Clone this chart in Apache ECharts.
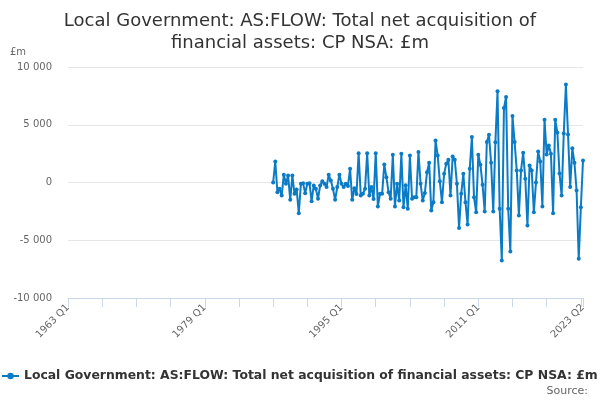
<!DOCTYPE html>
<html>
<head>
<meta charset="utf-8">
<script src="https://cdn.jsdelivr.net/npm/echarts@6/dist/echarts.min.js"></script>
<style>
  html, body { margin: 0; padding: 0; background: #fff; }
  #chart { width: 600px; height: 400px; }
</style>
</head>
<body>
<div id="chart"></div>
<script>
var titleText = 'Local Government: AS:FLOW: Total net acquisition of\nfinancial assets: CP NSA: £m';
var seriesName = 'Local Government: AS:FLOW: Total net acquisition of financial assets: CP NSA: £m';

// quarters shown on the axis
var startYear = 1963, endYear = 2023, endQuarter = 2;
var firstDataQuarter = '1987 Q1';
var labelQuarters = ['1963 Q1', '1979 Q1', '1995 Q1', '2011 Q1', '2023 Q2'];

// £m, quarterly from 1987 Q1 to 2023 Q2
var values = [
	0, 1820, -840, -550, -1130, 670, -100, 600, -1500, 600,
	-980, -600, -2660, -100, -60, -920, -110, -60, -1620, -260,
	-550, -1410, -260, 110, -110, -400, 670, 170, -550, -1500,
	-400, 670, -110, -400, -110, -300, 1190, -1500, -500, -1000,
	2540, -1130, -980, -550, 2540, -1130, -400, -1420, 2540, -2080,
	-980, -980, 1560, 460, -840, -1410, 2400, -2080, -110, -1560,
	2480, -2140, -230, -2280, 2340, -1410, -1270, -1270, 2630, -110,
	-1560, -900, 890, 1710, -2430, -1700, 3640, 2340, 110, -1700,
	750, 1620, 1970, -1130, 2250, 1970, -110, -3930, -980, 750,
	-1700, -3640, 1190, 3930, -1270, -2570, 2400, 1530, -200, -2510,
	3500, 4130, 1710, -2510, 3490, 7890, -2280, -6760, 6440, 7400,
	-2280, -5980, 5750, 3500, 1040, -2860, 1040, 2570, 320, -3730,
	1470, 1040, -2570, 0, 2690, 1820, -2080, 5430, 2430, 3200,
	2500, -2660, 5430, 4330, 780, -1130, 4250, 8490, 4160, -400,
	2970, 1710, -700, -6610, -2140, 1900
];

var categories = [];
for (var y = startYear; y <= endYear; y++) {
	for (var q = 1; q <= 4; q++) {
		if (y === endYear && q > endQuarter) break;
		categories.push(y + ' Q' + q);
	}
}
var offset = categories.indexOf(firstDataQuarter);
var seriesData = categories.map(function (c, i) {
	var v = values[i - offset];
	return v === undefined ? null : v;
});
var lastIdx = categories.length - 1;

var font = 'DejaVu Sans';
var myChart = echarts.init(document.getElementById('chart'));

var option = {
	animation: false,
	color: ['#0b7bc6'],
	textStyle: { fontFamily: font },
	title: [{
		text: titleText,
		left: 'center',
		top: 5,
		textStyle: { fontFamily: font, fontSize: 18, fontWeight: 'normal', color: '#333', lineHeight: 22 }
	}, {
		text: 'Source:',
		right: 7,
		top: 381,
		textStyle: { fontFamily: font, fontSize: 11, fontWeight: 'normal', color: '#666' }
	}],
	legend: {
		left: -4,
		top: 365,
		itemWidth: 17,
		itemHeight: 8,
		itemGap: 4,
		textStyle: { fontFamily: font, fontSize: 12.4, fontWeight: 'bold', color: '#333' },
		data: [seriesName]
	},
	grid: { left: 68, right: 17, top: 67, bottom: 102 },
	xAxis: {
		type: 'category',
		data: categories,
		boundaryGap: false,
		axisLine: { onZero: false, lineStyle: { color: '#ccd6eb' } },
		axisTick: {
			lineStyle: { color: '#ccd6eb' },
			length: 9,
			interval: function (i) { return i % 16 === 0 || i === lastIdx; }
		},
		axisLabel: {
			rotate: 45,
			color: '#666',
			fontSize: 10,
			margin: 8,
			interval: function (i, v) { return labelQuarters.indexOf(v) >= 0; }
		},
		splitLine: { show: false }
	},
	yAxis: {
		type: 'value',
		min: -10000,
		max: 10000,
		interval: 5000,
		name: '£m',
		nameLocation: 'end',
		nameGap: 10,
		nameTextStyle: { color: '#666', fontSize: 10, align: 'right', padding: [0, 42, 0, 0] },
		axisLine: { show: false },
		axisTick: { show: false },
		axisLabel: {
			color: '#666',
			fontSize: 10,
			margin: 16,
			formatter: function (v) {
				return String(v).replace(/\B(?=(\d{3})+(?!\d))/g, ' ');
			}
		},
		splitLine: { lineStyle: { color: '#e6e6e6' } }
	},
	series: [{
		name: seriesName,
		type: 'line',
		data: seriesData,
		symbol: 'circle',
		symbolSize: 4,
		showAllSymbol: true,
		connectNulls: false,
		lineStyle: { width: 2 },
		itemStyle: { color: '#0b7bc6' }
	}]
};

myChart.setOption(option);
</script>
</body>
</html>
